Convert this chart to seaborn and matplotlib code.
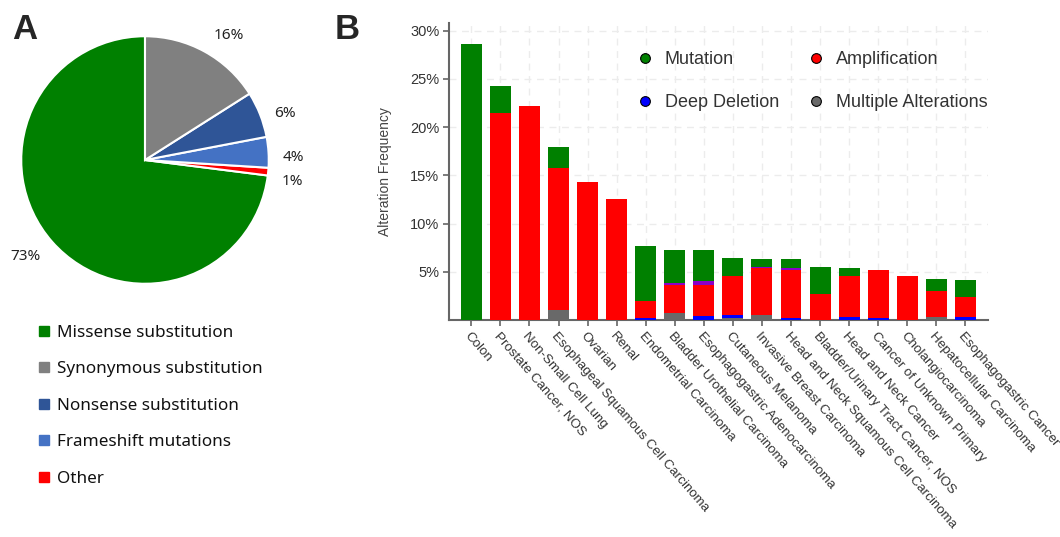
import matplotlib
matplotlib.use("Agg")
import matplotlib.pyplot as plt
import seaborn as sns
import pandas as pd
import numpy as np
from matplotlib.lines import Line2D

# ---------------- data ----------------
pie_labels = ["Missense substitution", "Synonymous substitution", "Nonsense substitution",
              "Frameshift mutations", "Other"]
pie_values = [73, 16, 6, 4, 1]
pie_colors = ["#008000", "#808080", "#2F5597", "#4472C4", "#FF0000"]

categories = ["Colon", "Prostate Cancer, NOS", "Non-Small Cell Lung",
              "Esophageal Squamous Cell Carcinoma", "Ovarian", "Renal",
              "Endometrial Carcinoma", "Bladder Urothelial Carcinoma",
              "Esophagogastric Adenocarcinoma", "Cutaneous Melanoma",
              "Invasive Breast Carcinoma", "Head and Neck Squamous Cell Carcinoma",
              "Bladder/Urinary Tract Cancer, NOS", "Head and Neck Cancer",
              "Cancer of Unknown Primary", "Cholangiocarcinoma",
              "Hepatocellular Carcinoma", "Esophagogastric Cancer"]
multiple = [0, 0, 0, 1.0, 0, 0, 0, 0.7, 0, 0.2, 0.5, 0, 0, 0, 0, 0, 0.3, 0]
deep_deletion = [0, 0, 0, 0, 0, 0, 0.2, 0, 0.37, 0.3, 0, 0.17, 0, 0.34, 0.17, 0, 0, 0.3]
amplification = [0, 21.45, 22.2, 14.8, 14.3, 12.5, 1.8, 2.95, 3.28, 4.05, 4.85, 5.0,
                 2.72, 4.26, 5.03, 4.6, 2.7, 2.1]
fusion = [0, 0, 0, 0, 0, 0, 0, 0.2, 0.37, 0, 0.15, 0.2, 0, 0, 0, 0, 0, 0]
mutation = [28.6, 2.85, 0, 2.1, 0, 0, 5.65, 3.45, 3.2, 1.9, 0.85, 0.93, 2.75, 0.8,
            0, 0, 1.3, 1.73]
y_ticks = [5, 10, 15, 20, 25, 30]

# ---------------- style ----------------
sns.set_theme(style="white")
plt.rcParams["font.family"] = ["Liberation Sans", "DejaVu Sans"]

fig = plt.figure(figsize=(10.6, 5.37), dpi=100)
W, H = 1060, 537

def fr(x0, y0, x1, y1):
    return [x0 / W, 1 - y1 / H, (x1 - x0) / W, (y1 - y0) / H]

# ---------------- panel A: pie ----------------
axp = fig.add_axes(fr(20, 35, 270, 285))
order = [0, 4, 3, 2, 1]  # counter-clockwise from top: green, red, blue, navy, gray
vals = [pie_values[i] for i in order]
cols = [pie_colors[i] for i in order]
txt = [f"{v}%" for v in vals]
wedges, texts = axp.pie(vals, colors=cols, labels=txt, startangle=90, counterclock=True,
                        labeldistance=1.12,
                        wedgeprops=dict(edgecolor="white", linewidth=1.5),
                        textprops=dict(fontsize=11, color="#222222", family="Noto Sans"))
# small label offsets (angle shift in degrees, radial distance) to avoid crowding
label_adjust = {"1%": (-3.5, 1.12), "4%": (-2.5, 1.11), "6%": (-2.0, 1.11),
                "16%": (0.0, 1.15), "73%": (1.5, 1.15)}
for w, t in zip(wedges, texts):
    dth, dist = label_adjust[t.get_text()]
    ang = np.deg2rad((w.theta1 + w.theta2) / 2 + dth)
    t.set_position((dist * np.cos(ang), dist * np.sin(ang)))
    t.set_clip_on(False)
axp.set_xlim(-1.01, 1.01)
axp.set_ylim(-1.01, 1.01)
axp.set_aspect("equal")

pie_handles = [Line2D([0], [0], marker="s", linestyle="none", markersize=7,
                      markerfacecolor=c, markeredgecolor=c) for c in pie_colors]
fig.legend(pie_handles, pie_labels, loc="upper left", bbox_to_anchor=(27 / W, 1 - 316 / H),
           frameon=False, prop=dict(family="Noto Sans", size=12.3),
           handlelength=1.0, handletextpad=0.25, labelspacing=1.2, borderpad=0,
           labelcolor="#111111")

fig.text(12 / W, 1 - 13 / H, "A", fontsize=25, fontweight="bold", va="top", ha="left",
         family="Liberation Sans")
fig.text(335 / W, 1 - 13 / H, "B", fontsize=25, fontweight="bold", va="top", ha="left",
         family="Liberation Sans")

# ---------------- panel B: stacked bars ----------------
axb = fig.add_axes(fr(449, 23, 988, 320))
df = pd.DataFrame({"cat": categories, "multiple": multiple, "deep": deep_deletion,
                   "amp": amplification, "fusion": fusion, "mut": mutation})
df["c1"] = df["multiple"]
df["c2"] = df["c1"] + df["deep"]
df["c3"] = df["c2"] + df["amp"]
df["c4"] = df["c3"] + df["fusion"]
df["c5"] = df["c4"] + df["mut"]

layers = [("c5", "#008000"), ("c4", "#8B00C9"), ("c3", "#FF0000"),
          ("c2", "#0000FF"), ("c1", "#696969")]
for col, color in layers:
    sns.barplot(data=df, x="cat", y=col, color=color, saturation=1, width=0.72,
                ax=axb, order=categories, linewidth=0, zorder=3)

axb.set_xlim(-0.77, 17.78)
axb.set_ylim(0, 30.8)
axb.set_yticks(y_ticks)
axb.set_yticklabels([f"{t}%" for t in y_ticks], fontsize=10.5, color="#333333")
axb.set_xticks(range(len(categories)))
axb.set_xticklabels(categories, rotation=-49, ha="left", va="top",
                    rotation_mode="anchor", fontsize=9.6, color="#333333")
axb.set_xlabel("")
axb.set_ylabel("Alteration Frequency", fontsize=10, color="#444444", labelpad=13)

axb.set_axisbelow(True)
axb.grid(True, axis="both", color="#ececec", linestyle=(0, (5, 4)), linewidth=1.0, zorder=0)
for s in ["top", "right"]:
    axb.spines[s].set_visible(False)
for s in ["left", "bottom"]:
    axb.spines[s].set_color("#666666")
    axb.spines[s].set_linewidth(1.5)
axb.tick_params(axis="both", which="both", direction="out", length=4, width=1.2,
                color="#666666", bottom=True, left=True, pad=3)

bar_labels = ["Mutation", "Amplification", "Deep Deletion", "Multiple Alterations"]
bar_colors = ["#008000", "#FF0000", "#0000FF", "#696969"]
handles = [Line2D([0], [0], marker="o", linestyle="none", markersize=7,
                  markerfacecolor=c, markeredgecolor="black", markeredgewidth=0.8)
           for c in bar_colors]
# ncol=2 fills column-wise: order handles so rows read Mutation/Amplification, Deep/Multiple
ord2 = [0, 2, 1, 3]
axb.legend([handles[i] for i in ord2], [bar_labels[i] for i in ord2], ncol=2,
           loc="upper left", bbox_to_anchor=(627 / W, 1 - 42 / H),
           bbox_transform=fig.transFigure, frameon=False, fontsize=13,
           handlelength=1.0, handletextpad=0.6, columnspacing=1.55, labelspacing=1.45,
           borderpad=0, labelcolor="#333333")

fig.savefig("out.png", dpi=100)
